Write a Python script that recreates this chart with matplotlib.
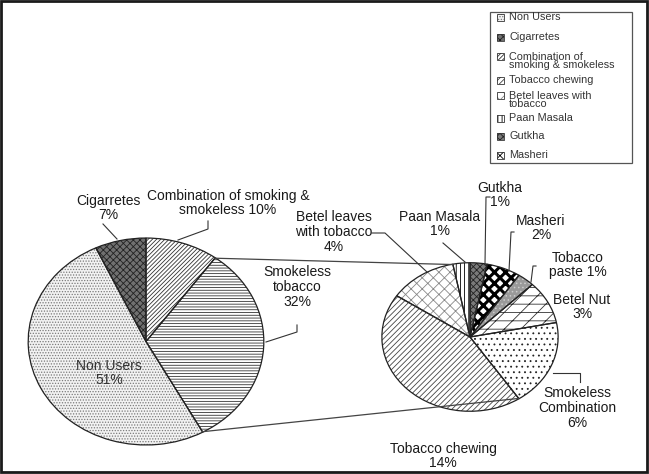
import matplotlib
matplotlib.use("Agg")
import matplotlib.pyplot as plt
import numpy as np
from matplotlib.patches import Rectangle

plt.rcParams['font.family'] = ['Liberation Sans', 'DejaVu Sans']
plt.rcParams['hatch.linewidth'] = 0.6

# ---------------- data ----------------
main_labels = ["Combination of smoking &\nsmokeless 10%", "Smokeless\ntobacco\n32%",
               "Non Users\n51%", "Cigarretes\n7%"]
main_values = [10, 32, 51, 7]

sub_labels = ["Gutkha\n1%", "Masheri\n2%", "Tobacco\npaste 1%", "Betel Nut\n3%",
              "Smokeless\nCombination\n6%", "Tobacco chewing\n14%",
              "Betel leaves\nwith tobacco\n4%", "Paan Masala\n1%"]
sub_values = [1, 2, 1, 3, 6, 14, 4, 1]

legend_labels = ["Non Users", "Cigarretes", "Combination of\nsmoking & smokeless",
                 "Tobacco chewing", "Betel leaves with\ntobacco", "Paan Masala",
                 "Gutkha", "Masheri"]

# ---------------- styles ----------------
main_style = [  # face, hatch, hatch colour
    ("white", "////////", "#333333"),
    ("white", "------", "#333333"),
    ("#f2f2f2", "......", "#7a7a7a"),
    ("#707070", "xxxxx", "#222222"),
]
sub_style = [
    ("#7a7a7a", "xxxxx", "#222222"),   # Gutkha
    ("white", "xxx", "#000000"),       # Masheri
    ("#9a9a9a", "....", "#cccccc"),    # Tobacco paste
    ("white", "//--", "#333333"),      # Betel Nut
    ("white", "...", "#222222"),       # Smokeless Combination
    ("white", "//////", "#444444"),    # Tobacco chewing
    ("white", "xxx", "#888888"),       # Betel leaves
    ("white", "||||", "#000000"),      # Paan Masala
]
legend_style = [main_style[2], main_style[3], main_style[0], sub_style[5],
                sub_style[6], sub_style[7], sub_style[0], sub_style[1]]

W, H = 649, 474
fig = plt.figure(figsize=(W / 100, H / 100), dpi=100)

# pie boxes in pixel coordinates (x0, y0_top, width, height)
main_box = (27, 237, 238, 209)
sub_box = (381, 262, 178, 150)


def add_box_axes(box):
    x0, y0, w, h = box
    ax = fig.add_axes([x0 / W, 1 - (y0 + h) / H, w / W, h / H])
    return ax


def draw_pie(ax, values, styles, start):
    wedges, _ = ax.pie(values, startangle=start, counterclock=False, radius=1,
                       wedgeprops=dict(linewidth=0))
    for w, (fc, hatch, hc) in zip(wedges, styles):
        w.set_facecolor(fc)
        w.set_edgecolor(hc)
        w.set_hatch(hatch)
        if hatch == "xxx" and hc == "#000000" and hasattr(w, "set_hatch_linewidth"):
            w.set_hatch_linewidth(2.2)
    ax.pie(values, startangle=start, counterclock=False, radius=1,
           wedgeprops=dict(fill=False, edgecolor="#222222", linewidth=0.9))
    ax.set_aspect('auto')
    ax.set_xlim(-1.01, 1.01)
    ax.set_ylim(-1.01, 1.01)
    ax.axis('off')
    return wedges


axm = add_box_axes(main_box)
main_w = draw_pie(axm, main_values, main_style, 90)
axs = add_box_axes(sub_box)
sub_w = draw_pie(axs, sub_values, sub_style, 90)

# overlay in pixel coordinates
ov = fig.add_axes([0, 0, 1, 1], facecolor="none")
ov.set_xlim(0, W)
ov.set_ylim(H, 0)
ov.axis('off')


def edge_point(box, ang):
    x0, y0, w, h = box
    cx, cy = x0 + w / 2, y0 + h / 2
    a = np.deg2rad(ang)
    return cx + w / 2 * np.cos(a) / 1.01 * 0.995, cy - h / 2 * np.sin(a) / 1.01 * 0.995


# connector lines between pies
p1 = edge_point(main_box, main_w[0].theta1)   # combination / smokeless boundary
p2 = edge_point(main_box, main_w[1].theta1)   # smokeless / non users boundary
q1 = edge_point(sub_box, sub_w[7].theta2)     # top of secondary pie
q2 = edge_point(sub_box, sub_w[5].theta2)     # bottom of secondary pie
for a, b in [(p1, q1), (p2, q2)]:
    ov.plot([a[0], b[0]], [a[1], b[1]], color="#444444", lw=0.9, zorder=0)

fs = 10
tc = "#1a1a1a"
# main labels
ov.text(108, 208, main_labels[3], ha="center", va="center", fontsize=fs, color=tc, linespacing=1.05)
ov.text(228, 203, main_labels[0], ha="center", va="center", fontsize=fs, color=tc, linespacing=1.05)
ov.text(297, 287, main_labels[1], ha="center", va="center", fontsize=fs, color=tc, linespacing=1.05)
ov.text(109, 373, main_labels[2], ha="center", va="center", fontsize=fs, color="#333333", linespacing=1.05)

# sub labels
ov.text(500, 195, sub_labels[0], ha="center", va="center", fontsize=fs, color=tc, linespacing=1.05)
ov.text(541, 228, sub_labels[1], ha="center", va="center", fontsize=fs, color=tc, linespacing=1.05)
ov.text(578, 265, sub_labels[2], ha="center", va="center", fontsize=fs, color=tc, linespacing=1.05)
ov.text(582, 307, sub_labels[3], ha="center", va="center", fontsize=fs, color=tc, linespacing=1.05)
ov.text(577, 408, sub_labels[4], ha="center", va="center", fontsize=fs, color=tc, linespacing=1.05)
ov.text(443, 456, sub_labels[5], ha="center", va="center", fontsize=fs, color=tc, linespacing=1.05)
ov.text(334, 232, sub_labels[6], ha="center", va="center", fontsize=fs, color=tc, linespacing=1.05)
ov.text(440, 224, sub_labels[7], ha="center", va="center", fontsize=fs, color=tc, linespacing=1.05)

# leader lines
leaders = [
    [(103, 224), (117, 239)],
    [(208, 221), (208, 229), (178, 240)],
    [(297, 325), (297, 332), (266, 342)],
    [(372, 233), (385, 233), (427, 272)],
    [(443, 243), (465, 262)],
    [(490, 197), (486, 197), (485, 264)],
    [(514, 232), (511, 232), (509, 271)],
    [(536, 266), (533, 266), (531, 282)],
    [(580, 382), (580, 373), (553, 373)],
]
for pts in leaders:
    xs, ys = zip(*pts)
    ov.plot(xs, ys, color="#333333", lw=0.8)

# legend box
ov.add_patch(Rectangle((490, 12), 142, 151, fill=False, edgecolor="#555555", lw=0.9))
leg_y = [17, 37, 61, 80, 100, 118, 136, 155]
for (fc, hatch, hc), lab, y in zip(legend_style, legend_labels, leg_y):
    n_lines = lab.count("\n") + 1
    ty = y if n_lines == 1 else y - 4.5
    ov.add_patch(Rectangle((497, ty - 3.5), 7, 7, facecolor=fc, edgecolor=hc, hatch=hatch, lw=0))
    ov.add_patch(Rectangle((497, ty - 3.5), 7, 7, fill=False, edgecolor="#333333", lw=0.6))
    ov.text(509, y, lab, ha="left", va="center", fontsize=7.8, color="#333333", linespacing=0.85)

# outer frame
ov.add_patch(Rectangle((1, 1), W - 3, H - 3, fill=False, edgecolor="#1a1a1a", lw=2))

fig.savefig("out.png", dpi=100, facecolor="white")
